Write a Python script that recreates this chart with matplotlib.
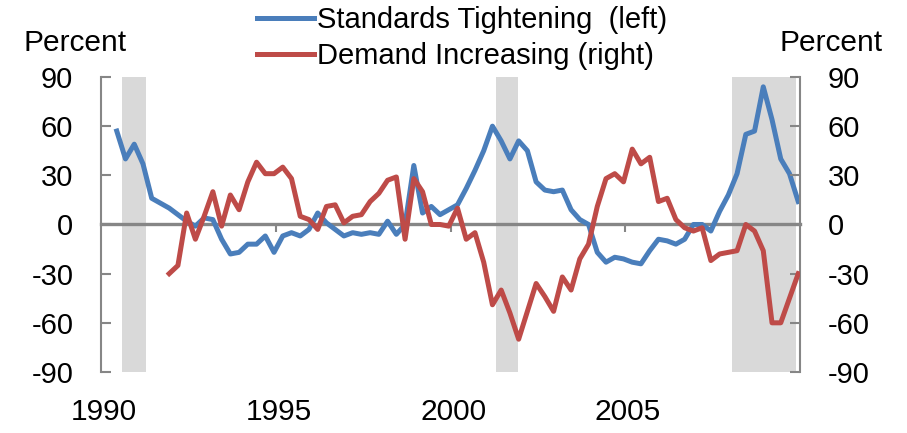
import numpy as np
import pandas as pd
import matplotlib
matplotlib.use("Agg")
import matplotlib.pyplot as plt
from matplotlib.lines import Line2D

matplotlib.rcParams["font.family"] = ["Liberation Sans", "DejaVu Sans"]
matplotlib.rcParams["font.size"] = 21

# quarterly survey, 1990Q2 - 2009Q4
quarters = pd.period_range("1990Q2", "2009Q4", freq="Q")

standards = [57, 40, 49, 37, 16, 13, 10, 6, 2, -1,
             4, 3, -9, -18, -17, -12, -12, -7, -17, -7,
             -5, -7, -3, 7, 1, -3, -7, -5, -6, -5,
             -6, 2, -6, 0, 36, 7, 11, 6, 9, 12,
             22, 33, 45, 60, 51, 40, 51, 45, 26, 21,
             20, 21, 9, 3, 0, -17, -23, -20, -21, -23,
             -24, -16, -9, -10, -12, -9, 0, 0, -4, 8,
             18, 31, 55, 57, 84, 64, 40, 31, 14]

# demand series starts 1991Q4
demand = [-30, -25, 7, -9, 5, 20, -1, 18, 9, 26,
          38, 31, 31, 35, 28, 5, 3, -3, 11, 12,
          1, 5, 6, 14, 19, 27, 29, -9, 28, 20,
          0, 0, -1, 10, -9, -5, -23, -49, -40, -54,
          -70, -53, -36, -44, -53, -32, -40, -21, -12, 11,
          28, 31, 26, 46, 37, 41, 14, 16, 3, -2,
          -4, -2, -22, -18, -17, -16, 0, -4, -16, -60,
          -60, -45, -30]

recessions = [(1990.6, 1991.29), (2001.3, 2001.92), (2008.05, 2009.88)]
year_ticks = [1990, 1995, 2000, 2005]
yticks = [-90, -60, -30, 0, 30, 60, 90]

x = quarters.year + (quarters.quarter - 1) / 4 + 0.2
x_demand = x[len(standards) - len(demand):]

blue = "#4A7EBB"
red = "#BE4B48"
gray = "#868686"

fig = plt.figure(figsize=(9.07, 4.33), dpi=100)
ax = fig.add_axes([0.1114, 0.1409, 0.7706, 0.6813])
ax2 = ax.twinx()

for a, b in recessions:
    ax.axvspan(a, b, ymin=0, ymax=1, color="#D9D9D9", lw=0, zorder=0)

ax.plot(x, standards, color=blue, lw=3.6, solid_joinstyle="round", zorder=3)
ax2.plot(x_demand, demand, color=red, lw=3.6, solid_joinstyle="round", zorder=3)

for a in (ax, ax2):
    a.set_xlim(1990, 2010)
    a.set_ylim(-90, 90)
    a.set_yticks(yticks)
    a.set_yticklabels([str(t) for t in yticks])
    a.spines["top"].set_visible(False)
    a.tick_params(axis="y", direction="in", length=7, width=1.5, color=gray,
                  labelsize=21, pad=20)

ax.spines["right"].set_visible(False)
ax.spines["left"].set_color(gray)
ax.spines["left"].set_linewidth(1.5)
ax2.spines["left"].set_visible(False)
ax2.spines["bottom"].set_visible(False)
ax2.spines["right"].set_color(gray)
ax2.spines["right"].set_linewidth(1.5)

ax.spines["bottom"].set_position(("data", 0))
ax.spines["bottom"].set_color(gray)
ax.spines["bottom"].set_linewidth(2.4)
ax.spines["bottom"].set_zorder(1)
ax.set_xticks([1995, 2000, 2005])
ax.tick_params(axis="x", direction="out", length=6, width=1.5, color=gray,
               labelbottom=False)

# year labels sit below the plot, Excel style
for yr in year_ticks:
    ax.text(yr + 0.08, -0.135, str(yr), transform=ax.get_xaxis_transform(),
            ha="center", va="center", fontsize=21.5)

fig.text(75 / 907, 1 - 43 / 433, "Percent", ha="center", va="center", fontsize=21.5)
fig.text(831 / 907, 1 - 43 / 433, "Percent", ha="center", va="center", fontsize=21.5)

handles = [Line2D([], [], color=blue, lw=3.6),
           Line2D([], [], color=red, lw=3.6)]
fig.legend(handles, ["Standards Tightening  (left)", "Demand Increasing (right)"],
           loc="upper left", bbox_to_anchor=(257 / 907, 1 - 6 / 433), frameon=False,
           fontsize=21, handlelength=1.95, handletextpad=0.12,
           labelspacing=0.27, borderaxespad=0, borderpad=0.0)

fig.savefig("out.png", dpi=100)
